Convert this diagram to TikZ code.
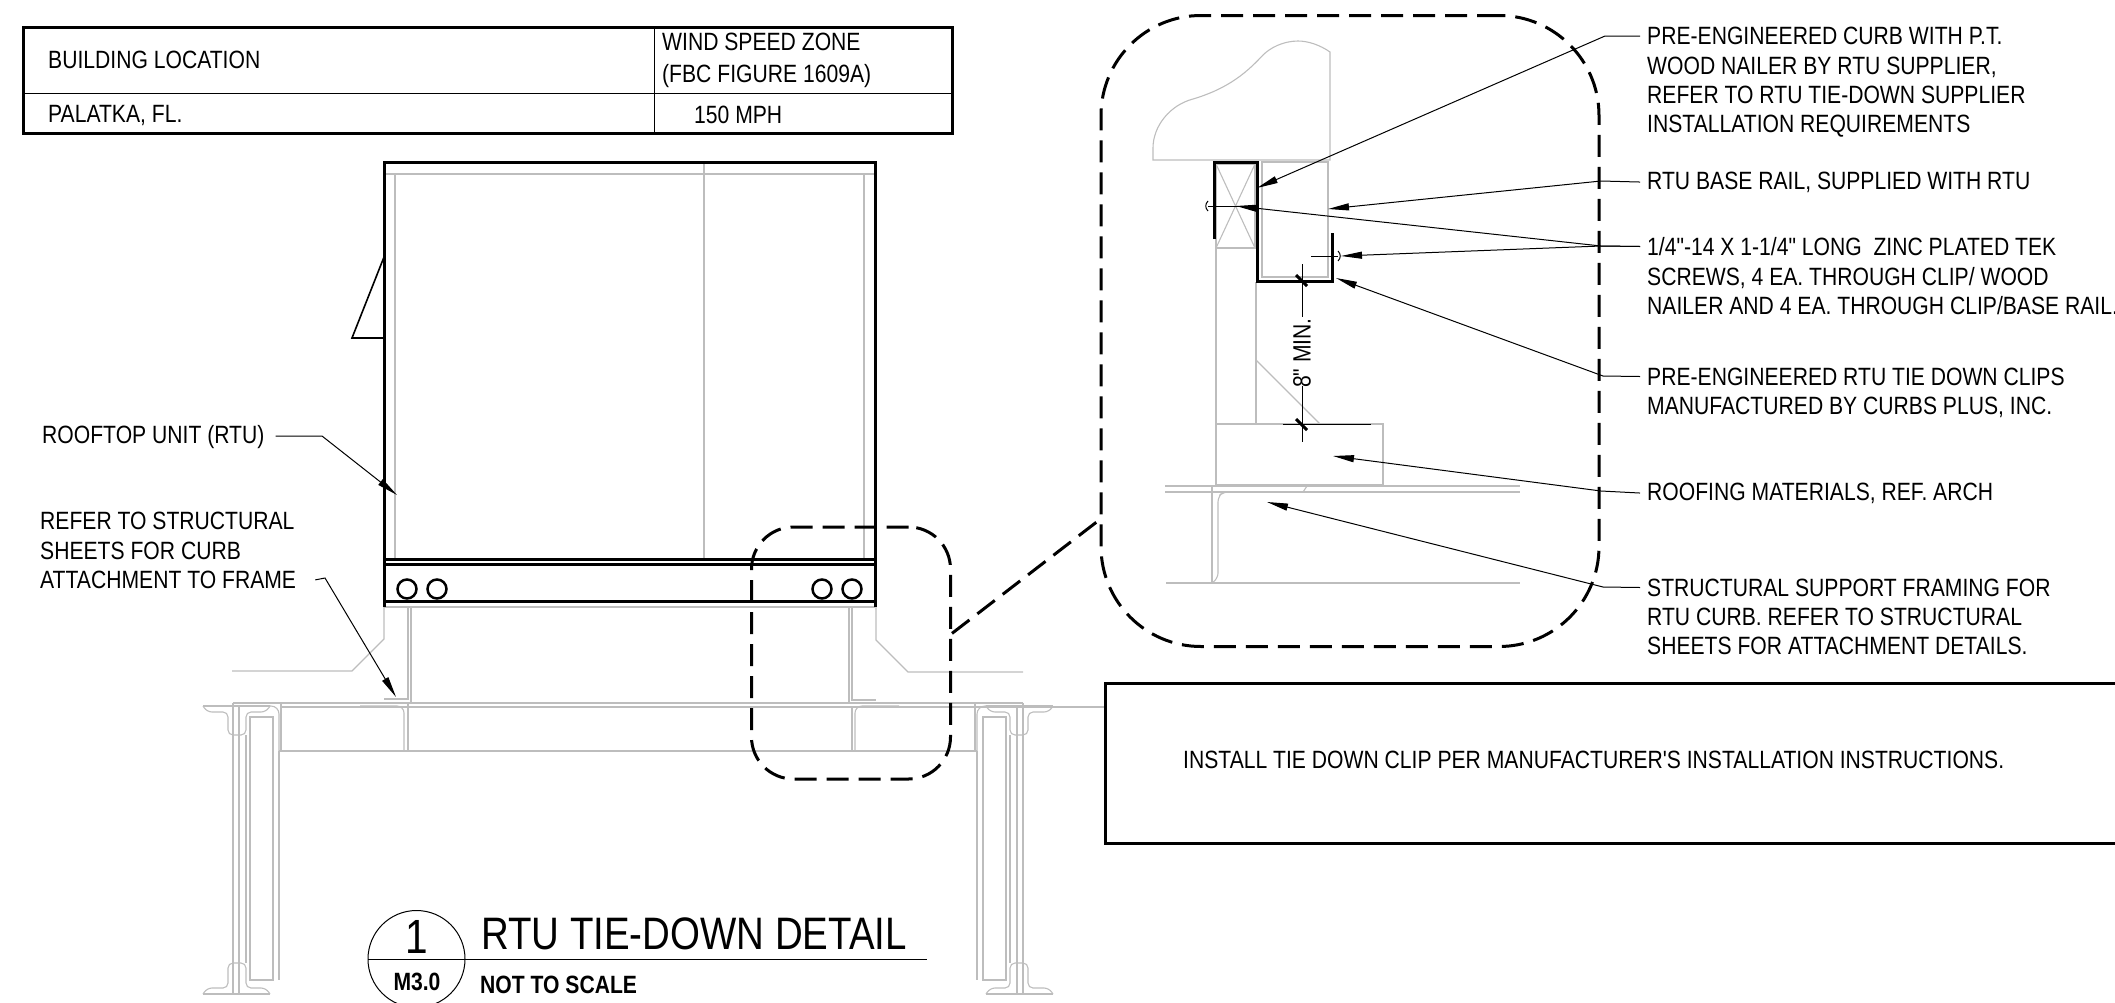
\documentclass[tikz,border=0pt]{standalone}
\usepackage{fontspec}
\setmainfont{Liberation Sans}[FakeStretch=0.845,Ligatures=TeXOff]
\usetikzlibrary{arrows.meta}

\tikzset{
    callout/.style={font=\fontsize{25}{29.4}\selectfont, inner sep=0pt, anchor=north west, align=left},
    plainline/.style={black, line width=1pt},
    heavy/.style={black, line width=3pt},
    ghost/.style={black!26, line width=1.1pt},
    leader/.style={plainline, -{Triangle[length=21pt,width=7pt]}},
    loopline/.style={black, line width=3pt, dash pattern=on 22pt off 10pt},
}

\begin{document}
\begin{tikzpicture}[x=1pt,y=-1pt]
\clip (0,0) rectangle (2115,1002);

% wind table
\draw[heavy] (23,27) rectangle (952,133);
\draw[plainline] (23,93) -- (952,93);
\draw[plainline] (654,27) -- (654,133);
    \node[callout,anchor=west] (lblbuilding) at (48,59.5) {BUILDING LOCATION};
    \node[callout,anchor=west,font=\fontsize{25}{32}\selectfont] (lblzone) at (662,60.5) {WIND SPEED ZONE\\(FBC FIGURE 1609A)};
    \node[callout,anchor=west] (lblcity) at (48,115.5) {PALATKA, FL.};
    \node[callout,anchor=west] (lblspeed) at (694,115) {150 MPH};

% unit elevation
\draw[ghost] (384,174) -- (875,174);
\draw[ghost] (395,174) -- (395,558);
\draw[ghost] (864,174) -- (864,558);
\draw[ghost] (704,162) -- (704,558);
\draw[ghost] (384,607) -- (875,607);
\draw[heavy] (384,607) -- (384,162) -- (875,162) -- (875,607);
\draw[heavy] (384,559) -- (875,559);
\draw[heavy] (384,564) -- (875,564);
\draw[heavy] (384,601) -- (875,601);
\draw[plainline,line width=1.6pt] (384,257) -- (352,338) -- (384,338);
\foreach \cx in {407,437,822,852}
    \draw[black,line width=2.5pt] (\cx,589) circle (9.5pt);

% curb and deck
\draw[ghost] (384,607) -- (384,639) -- (352,671) -- (232,671);
\draw[ghost] (876,607) -- (876,640) -- (908,672) -- (1023,672);
\draw[ghost] (408,607) -- (408,699) -- (384,699);
\draw[ghost] (411,607) -- (411,703);
\draw[ghost] (849,607) -- (849,703);
\draw[ghost] (852,607) -- (852,700) -- (876,700);
\draw[ghost] (233,703) -- (1023,703);
\draw[ghost] (281,707) -- (1105,707);
\draw[ghost] (279,751) -- (977,751);
\draw[ghost] (408,703) -- (408,751);
\draw[ghost,rounded corners=7pt] (360,706) -- (404,706) -- (404,751);
\draw[ghost] (852,707) -- (852,751);
\draw[ghost,rounded corners=7pt] (899,706) -- (855,706) -- (855,751);

\foreach \sx/\ox in {1/0,-1/1256}{
\begin{scope}[xshift=\ox pt,xscale=\sx]
\draw[ghost] (233,703) -- (233,994);
\draw[ghost] (239,706) -- (239,994);
\draw[ghost] (246,735) -- (246,963);
\draw[ghost] (250,717) rectangle (273,980);
\draw[ghost] (279,751) -- (279,980);
\draw[ghost] (281,703) -- (281,751);
\draw[ghost,rounded corners=8pt] (239,706) -- (279,706) -- (279,751);
\draw[ghost] (203,706) -- (270,706);
\draw[ghost] (203,994) -- (270,994);
\draw[ghost,rounded corners=5pt] (203,706) -- (207,712) -- (228,712) -- (228,735) -- (246,735) -- (246,712) -- (266,712) -- (270,706);
\draw[ghost,rounded corners=5pt] (203,994) -- (207,988) -- (228,988) -- (228,963) -- (246,963) -- (246,988) -- (266,988) -- (270,994);
\end{scope}
}

% enlarged detail
\begin{scope}[shift={(-2,-2)}]
\draw[ghost] (1155,162) -- (1332,162) -- (1332,54) .. controls (1322,47) and (1310,43) .. (1300,43)
    .. controls (1285,43) and (1272,50) .. (1265,57) .. controls (1250,73) and (1232,90) .. (1195,101)
    .. controls (1172,107) and (1155,128) .. (1155,150) -- cycle;
\draw[ghost] (1264,164) rectangle (1330,279);
\draw[ghost] (1218,166) rectangle (1257,250);
\draw[ghost] (1218,166) -- (1257,250);
\draw[ghost] (1257,166) -- (1218,250);
\draw[ghost] (1218,250) -- (1218,426);
\draw[ghost] (1258,284) -- (1258,426);
\draw[ghost] (1258,362) -- (1322,426);
\draw[ghost] (1218,426) rectangle (1385,487);
\draw[ghost] (1167,488) -- (1522,488);
\draw[ghost] (1167,494) -- (1522,494);
\draw[ghost] (1168,585) -- (1522,585);
\draw[ghost] (1214,489) -- (1214,585);
\draw[ghost,rounded corners=5pt] (1305,494) -- (1225,494) -- (1220,499) -- (1220,580) -- (1214,585);
\draw[ghost] (1305,494) -- (1309,488);
\draw[plainline] (1285,426) -- (1373,426);
\draw[heavy] (1216,241) -- (1216,164) -- (1259,164) -- (1259,283) -- (1334,283) -- (1334,235);
\draw[plainline] (1210,208) -- (1260,208);
\draw[plainline] (1210,203) .. controls (1207,206) and (1207,210) .. (1210,213);
\draw[plainline] (1313,258) -- (1340,258);
\draw[plainline] (1340,253) .. controls (1343,256) and (1343,260) .. (1340,263);
\draw[plainline] (1304,266) -- (1304,319);
\draw[plainline] (1304,388) -- (1304,444);
\draw[heavy] (1298,277) -- (1309,288);
\draw[heavy] (1298,421) -- (1309,432);
    \node[font=\fontsize{25}{30}\selectfont,rotate=90,inner sep=0pt] (lblmin) at (1304,355) {8" MIN.};

    \coordinate (curbtip) at (1259,190);
    \coordinate (railtip) at (1330,211);
    \coordinate (nailertip) at (1238,208);
    \coordinate (basetip) at (1343,258);
    \coordinate (cliptip) at (1338,280);
    \coordinate (rooftip) at (1335,458);
    \coordinate (frametip) at (1269,504);
\end{scope}

% detail loops
    \node[loopline,draw,rounded corners=42pt,minimum width=199pt,minimum height=252pt,inner sep=0pt] (smallloop) at (851,653) {};
    \node[loopline,draw,rounded corners=100pt,minimum width=498pt,minimum height=631pt,inner sep=0pt] (bigloop) at (1350,331) {};
\draw[loopline] (smallloop.11.4) -- (bigloop.217);

% callouts
    \node[callout] (lblcurb) at (1647,27) {PRE-ENGINEERED CURB WITH P.T.\\WOOD NAILER BY RTU SUPPLIER,\\REFER TO RTU TIE-DOWN SUPPLIER\\INSTALLATION REQUIREMENTS};
    \node[callout] (lblrail) at (1647,171.5) {RTU BASE RAIL, SUPPLIED WITH RTU};
    \node[callout] (lblscrew) at (1647,237.5) {1/4"-14 X 1-1/4" LONG\ \ ZINC PLATED TEK\\SCREWS, 4 EA. THROUGH CLIP/ WOOD\\NAILER AND 4 EA. THROUGH CLIP/BASE RAIL.};
    \node[callout] (lblclip) at (1647,367.5) {PRE-ENGINEERED RTU TIE DOWN CLIPS\\MANUFACTURED BY CURBS PLUS, INC.};
    \node[callout] (lblroof) at (1647,482.5) {ROOFING MATERIALS, REF. ARCH};
    \node[callout] (lblframe) at (1647,578.5) {STRUCTURAL SUPPORT FRAMING FOR\\RTU CURB. REFER TO STRUCTURAL\\SHEETS FOR ATTACHMENT DETAILS.};
    \node[callout,anchor=west] (lblrtu) at (42,437) {ROOFTOP UNIT (RTU)};
    \node[callout] (lblrefer) at (40,512) {REFER TO STRUCTURAL\\SHEETS FOR CURB\\ATTACHMENT TO FRAME};

    \coordinate (rtutip) at (397,495);
    \coordinate (refertip) at (396,697);

\draw[leader] ([shift={(-7pt,-9pt)}]lblcurb.north west) -- ++(-35,0) -- (curbtip);
\draw[leader] ([xshift=-7pt]lblrail.west) -- (1601,181) -- (railtip);
\draw[leader] ([shift={(-7pt,-9pt)}]lblscrew.north west) -- (1601,246) -- (nailertip);
\draw[leader] ([shift={(-7pt,-9pt)}]lblscrew.north west) -- (1601,246) -- (basetip);
\draw[leader] ([shift={(-7pt,-9pt)}]lblclip.north west) -- (1603,376) -- (cliptip);
\draw[leader] ([xshift=-7pt]lblroof.west) -- (1601,491) -- (rooftip);
\draw[leader] ([shift={(-7pt,-9pt)}]lblframe.north west) -- (1603,587) -- (frametip);
\draw[leader] ([shift={(11pt,1pt)}]lblrtu.east) -- (322,436) -- (rtutip);
\draw[leader] ([shift={(19pt,9pt)}]lblrefer.south east) -- (325,578) -- (refertip);

% note box
    \node[draw,black,line width=3pt,anchor=north west,minimum width=1040pt,minimum height=160pt,inner sep=0pt] (notebox) at (1104,682) {};
    \node[callout,anchor=west] (lblnote) at (1183,760) {INSTALL TIE DOWN CLIP PER MANUFACTURER'S INSTALLATION INSTRUCTIONS.};

% title
\draw[plainline] (416.5,959) circle (48.5pt);
\draw[plainline] (368,959) -- (927,959);
    \node[font=\fontsize{48}{52}\selectfont,inner sep=0pt] (lblnum) at (417,937) {1};
    \node[font=\fontsize{25}{28}\selectfont\bfseries,inner sep=0pt] (lblsheet) at (417,982) {M3.0};
    \node[font=\fontsize{45.5}{50}\selectfont,inner sep=0pt,anchor=west] (lbltitle) at (481,934) {RTU TIE-DOWN DETAIL};
    \node[font=\fontsize{25}{28}\selectfont\bfseries,inner sep=0pt,anchor=west] (lblscale) at (480,985) {NOT TO SCALE};
\end{tikzpicture}
\end{document}
